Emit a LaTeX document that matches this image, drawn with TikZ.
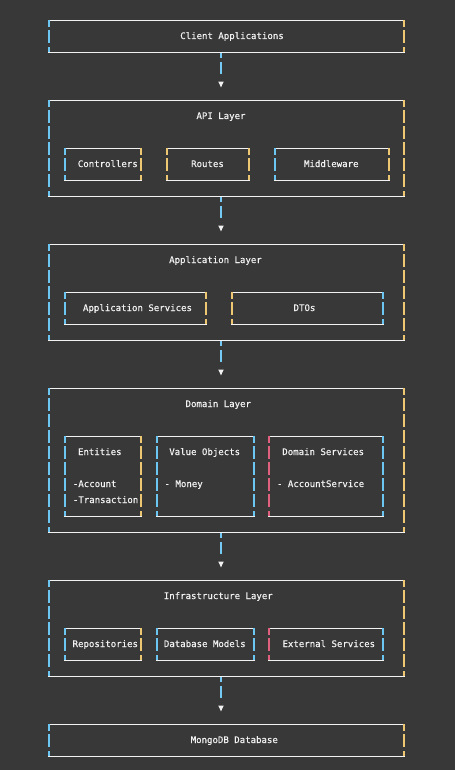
\documentclass[tikz,border=0pt]{standalone}
\usepackage{fontspec}
\newfontfamily\monofam[FakeBold=0.35]{DejaVu Sans Mono}
\definecolor{bg}{HTML}{383838}
\definecolor{fg}{HTML}{F2F2F2}
\definecolor{lc}{HTML}{6CC6F2}
\definecolor{rc}{HTML}{EEC772}
\definecolor{pc}{HTML}{E0607E}
\definecolor{ac}{HTML}{74CAF2}
\tikzset{
  hl/.style={draw=fg,line width=1pt},
  txt/.style={font=\monofam\fontsize{9.05}{10}\selectfont,text=fg,inner sep=0pt,anchor=base},
  txtl/.style={txt,anchor=base west},
}
% vertical piece: x, y1, y2, colour
\newcommand\vpiece[4]{%
  \draw[line width=1.7pt,#4] (#1,#2) -- (#1,#3);}
% dashed border made of glyph rows: x, top, bottom, colour
\newcommand\vsegs[4]{%
  \pgfmathtruncatemacro\nmid{round((#3-#2)/16)-1}%
  \vpiece{#1}{#2}{#2+7}{#4}%
  \foreach \k in {1,...,\nmid}{\vpiece{#1}{#2+16*\k-6}{#2+16*\k+7}{#4}}%
  \vpiece{#1}{#3-5}{#3}{#4}}
% box: name, xl, xr, top, bottom, left colour, right colour
\newcommand\tbox[7]{%
  \coordinate (#1) at ({(#2+#3)/2},{(#4+#5)/2});
  \draw[hl] (#2-0.85,#4+0.5) -- (#3+0.85,#4+0.5);
  \draw[hl] (#2-0.85,#5+0.5) -- (#3+0.85,#5+0.5);
  \vsegs{#2}{#4}{#5}{#6}%
  \vsegs{#3}{#4}{#5}{#7}}
% arrow below a box: name, x, bottom y of upper box
\newcommand\tarrow[3]{%
  \coordinate (#1) at (#2,#3);
  \vpiece{#2}{#3+1}{#3+6}{ac}%
  \vpiece{#2}{#3+10}{#3+22}{ac}%
  \fill[fg] (#2-2.7,#3+29.7) -- (#2+2.7,#3+29.7) -- (#2,#3+35.3) -- cycle;}
\begin{document}
\begin{tikzpicture}[x=1pt,y=-1pt]
\fill[bg] (0,0) rectangle (455,770);
\useasboundingbox (0,0) rectangle (455,770);

% ---- outer layers
\tbox{client}{49}{404}{20}{52}{lc}{rc}
\tbox{api}{49}{404}{100}{196}{lc}{rc}
\tbox{app}{49}{404}{244}{340}{lc}{rc}
\tbox{dom}{49}{404}{388}{532}{lc}{rc}
\tbox{inf}{49}{404}{580}{676}{lc}{rc}
\tbox{db}{49}{404}{724}{756}{lc}{rc}

% ---- arrows
\tarrow{a1}{221}{52}
\tarrow{a2}{221}{196}
\tarrow{a3}{221}{340}
\tarrow{a4}{221}{532}
\tarrow{a5}{221}{676}

% ---- API layer inner boxes
\tbox{ctrl}{65}{141}{148}{180}{lc}{rc}
\tbox{rout}{167}{249}{148}{180}{rc}{rc}
\tbox{midd}{275}{389}{148}{180}{lc}{rc}
% ---- Application layer inner boxes
\tbox{appsv}{65}{206}{292}{324}{lc}{rc}
\tbox{dtos}{232}{383}{292}{324}{rc}{lc}
% ---- Domain layer inner boxes
\tbox{ent}{65}{141}{436}{516}{lc}{rc}
\tbox{vo}{157}{254}{436}{516}{lc}{lc}
\tbox{dsv}{269}{383}{436}{516}{pc}{lc}
% ---- Infrastructure layer inner boxes
\tbox{repo}{65}{141}{628}{660}{lc}{rc}
\tbox{dbm}{157}{254}{628}{660}{lc}{lc}
\tbox{ext}{269}{383}{628}{660}{pc}{lc}

% ---- texts
\node[txt] (tclient) at (232,39) {Client Applications};
\node[txt] (tapi) at (221,119) {API Layer};
\node[txt] (tctrl) at (107.8,167) {Controllers};
\node[txt] (trout) at (207.5,167) {Routes};
\node[txt] (tmidd) at (331.3,167) {Middleware};
\node[txt] (tapp) at (215.5,263) {Application Layer};
\node[txt] (tappsv) at (137.5,311) {Application Services};
\node[txt] (tdtos) at (304.5,311) {DTOs};
\node[txt] (tdom) at (218.3,407) {Domain Layer};
\node[txt] (tent) at (99.8,455) {Entities};
\node[txt] (tvo) at (204.7,455) {Value Objects};
\node[txt] (tdsv) at (323.2,455) {Domain Services};
\node[txtl] (tacc) at (72.7,487) {-Account};
\node[txtl] (ttra) at (72.7,503) {-Transaction};
\node[txtl] (tmon) at (164.4,487) {- Money};
\node[txtl] (tasv) at (276.8,487) {- AccountService};
\node[txt] (tinf) at (218.3,599) {Infrastructure Layer};
\node[txt] (trepo) at (105.3,647) {Repositories};
\node[txt] (tdbm) at (204.8,647) {Database Models};
\node[txt] (text) at (328.8,647) {External Services};
\node[txt] (tdb) at (234.3,743) {MongoDB Database};
\end{tikzpicture}
\end{document}
